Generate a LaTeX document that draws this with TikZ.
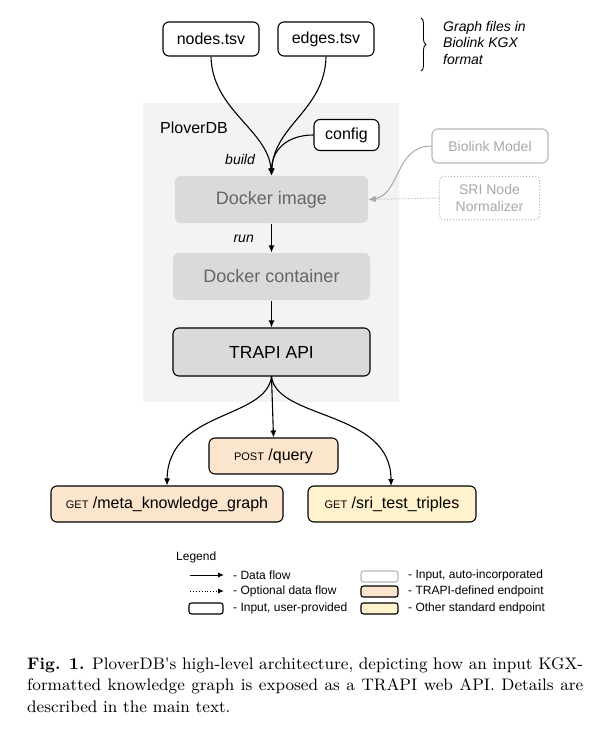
\documentclass[tikz,border=0pt]{standalone}
\usepackage{fontspec}
\newfontfamily\arial{Liberation Sans}
\newfontfamily\capfont{lmroman9}[Extension=.otf,UprightFont=*-regular,BoldFont=*-bold]
\usetikzlibrary{arrows.meta,decorations.pathreplacing}
\definecolor{bggrey}{HTML}{F3F3F3}
\definecolor{boxgrey}{HTML}{DADADA}
\definecolor{txtgrey}{HTML}{666666}
\definecolor{lightline}{HTML}{B7B7B7}
\definecolor{lighttxt}{HTML}{A8A8A8}
\definecolor{peach}{HTML}{FCE5CD}
\definecolor{cream}{HTML}{FFF2CC}
\newcommand{\fs}[1]{\fontsize{#1}{#1}\selectfont}
\newcommand{\fsb}[2]{\fontsize{#1}{#2}\selectfont}
\begin{document}
\begin{tikzpicture}[x=1pt,y=-1pt,
  base/.style={rounded corners=6pt,inner sep=0pt,font=\arial\fs{16},line width=1.1pt},
  userbox/.style={base,draw=black,fill=white},
  autobox/.style={base,draw=lightline,fill=white,text=lighttxt,font=\arial\fs{14},align=center},
  dockbox/.style={base,draw=none,fill=boxgrey,text=txtgrey,font=\arial\fs{18}},
  apibox/.style={base,draw=black,fill=boxgrey,font=\arial\fs{17.5}},
  trapibox/.style={base,draw=black,fill=peach},
  stdbox/.style={base,draw=black,fill=cream},
  flow/.style={line width=1.1pt,-{Latex[length=7pt,width=6pt]}},
  greyflow/.style={line width=1pt,draw=lighttxt,-{Latex[length=7pt,width=6pt]}},
  lab/.style={font=\arial\itshape\fs{14}},
  leg/.style={font=\arial\fs{12},anchor=west,inner sep=0pt},
  legarrow/.style={line width=0.9pt,-{Latex[length=6pt,width=5pt]}},
  legbox/.style={rounded corners=2.5pt,line width=1.1pt},
  capline/.style={anchor=base west,inner sep=0pt,font=\capfont\fs{16.7}}
]
\useasboundingbox (0,0) rectangle (612,735);
\fill[white] (0,0) rectangle (612,735);
% background panel
\fill[bggrey] (143,103) rectangle (399,402);
\node[anchor=west,font=\arial\fs{16},inner sep=0pt] (plover) at (160,128) {PloverDB};

% input files
\node[userbox,minimum width=96pt,minimum height=34pt] (nodes) at (211,39) {nodes.tsv};
\node[userbox,minimum width=96pt,minimum height=34pt] (edges) at (326,39) {edges.tsv};
\node[userbox,minimum width=65pt,minimum height=31pt] (config) at (346.5,135) {config};

% brace + note
\draw[line width=0.9pt,decorate,decoration={brace,amplitude=5pt}] (421,18) coordinate (b1) -- (421,71) coordinate (b2);
\node[anchor=north west,align=left,inner sep=0pt,font=\arial\itshape\fsb{14}{16.5}] (note) at (443,21) {Graph files in\\Biolink KGX\\format};

% docker
\node[dockbox,minimum width=193pt,minimum height=47pt] (dimg) at (271.5,199.5) {Docker image};
\node[dockbox,minimum width=197pt,minimum height=47pt] (dcont) at (271.5,276.5) {Docker container};
\node[apibox,minimum width=197pt,minimum height=48pt] (trapi) at (271.5,352) {TRAPI API};

% auto inputs
\node[autobox,minimum width=116pt,minimum height=34pt] (biolink) at (490,146) {Biolink Model};
\node[autobox,draw=none,minimum width=99pt,minimum height=42pt,align=center,font=\arial\fsb{14}{17}] (sri) at (489.5,198) {SRI Node\\Normalizer};
\draw[lightline,line width=1pt,dotted,rounded corners=4pt] (sri.north west) rectangle (sri.south east);

% endpoints
\node[trapibox,minimum width=129pt,minimum height=36pt] (post) at (273.5,456) {{\fs{11}POST} /query};
\node[trapibox,minimum width=232pt,minimum height=36pt] (meta) at (167,504) {{\fs{11}GET} /meta\_knowledge\_graph};
\node[stdbox,minimum width=168pt,minimum height=36pt] (sritr) at (392,504) {{\fs{11}GET} /sri\_test\_triples};

% build arrows
\draw[flow] (nodes.south) .. controls (212,110) and (268,130) .. (dimg.north);
\draw[flow] (edges.south) .. controls (325,110) and (274,125) .. (dimg.north);
\draw[flow] (config.west) .. controls (287,135) and (272,150) .. (dimg.north);
\node[lab,anchor=east,inner sep=0pt] (build) at (255,160) {build};

% auto-incorporated arrows
\draw[greyflow] (biolink.west) .. controls (395,146) and (400,195) .. (dimg.east);
\draw[greyflow,dotted] (sri.west) -- (dimg.east);

% run
\draw[flow] (dimg.south) -- (dcont.north);
\node[lab,anchor=east,inner sep=0pt] (run) at (254,239) {run};
\draw[flow] (dcont.south) -- (trapi.north);

% api to endpoints
\coordinate (sritop) at (391,486);
\draw[flow] (trapi.south) -- (post.north);
\draw[flow] (trapi.south) .. controls (266,420) and (168,410) .. (meta.north);
\draw[flow] (trapi.south) .. controls (277,420) and (391,410) .. (sritop);

% legend
\node[leg] (legend) at (176,557) {Legend};
\coordinate (la1) at (190,575); \coordinate (la2) at (224,575);
\draw[legarrow] (la1) -- (la2);
\node[leg] (l1) at (233,575) {- Data flow};
\coordinate (lb1) at (190,591); \coordinate (lb2) at (224,591);
\draw[legarrow,dotted] (lb1) -- (lb2);
\node[leg] (l2) at (233,591) {- Optional data flow};
\draw[legbox,draw=black,fill=white] (189,603) rectangle (223,614);
\node[leg] (l3) at (233,608.5) {- Input, user-provided};
\draw[legbox,draw=lightline,fill=white] (361,571) rectangle (398,582);
\node[leg] (r1) at (408,575) {- Input, auto-incorporated};
\draw[legbox,draw=black,fill=peach] (361,586) rectangle (398,597);
\node[leg] (r2) at (408,591) {- TRAPI-defined endpoint};
\draw[legbox,draw=black,fill=cream] (361,603) rectangle (398,614);
\node[leg] (r3) at (408,608.5) {- Other standard endpoint};

% caption
\node[capline] (cap1) at (27,669) {\makebox[556pt][s]{\textbf{Fig. 1.} PloverDB's high-level architecture, depicting how an input KGX-}};
\node[capline] (cap2) at (27,690.5) {\makebox[556pt][s]{formatted knowledge graph is exposed as a TRAPI web API. Details are}};
\node[capline] (cap3) at (27,712) {described in the main text.};
\end{tikzpicture}
\end{document}
